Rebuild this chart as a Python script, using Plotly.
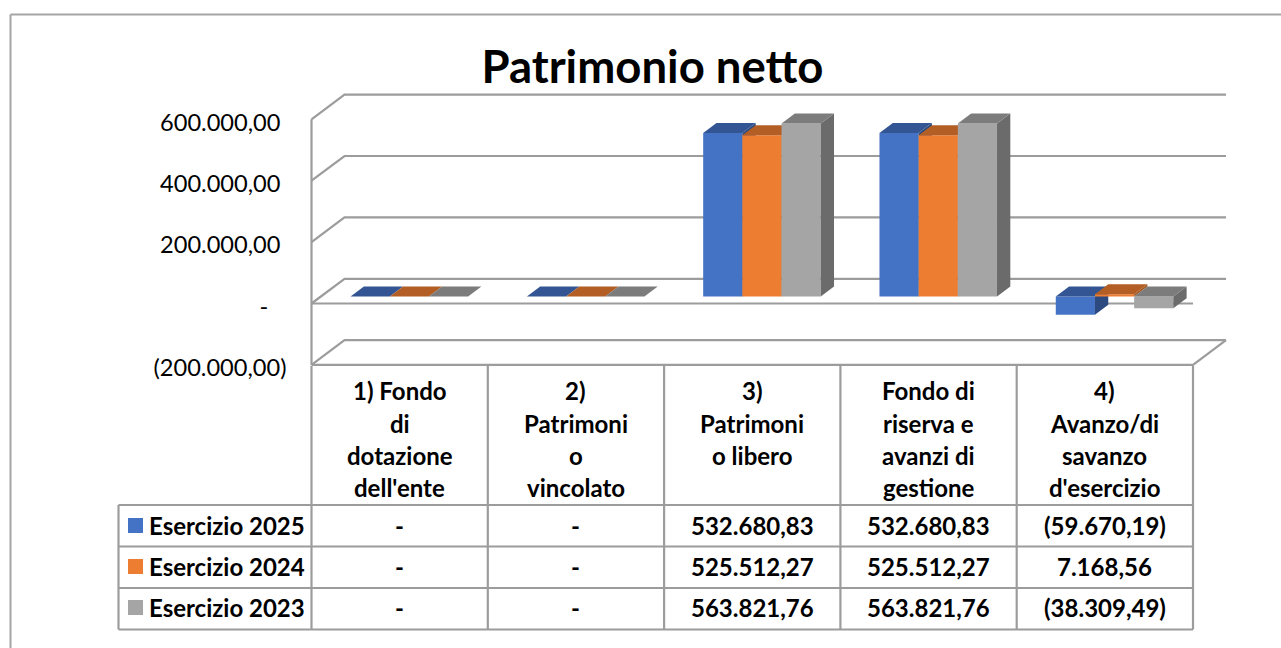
import plotly.graph_objects as go

# ---- data ----
series_names = ["Esercizio 2025", "Esercizio 2024", "Esercizio 2023"]
values_2025 = [0, 0, 532680.83, 532680.83, -59670.19]
values_2024 = [0, 0, 525512.27, 525512.27, 7168.56]
values_2023 = [0, 0, 563821.76, 563821.76, -38309.49]
labels_2025 = ["-", "-", "532.680,83", "532.680,83", "(59.670,19)"]
labels_2024 = ["-", "-", "525.512,27", "525.512,27", "7.168,56"]
labels_2023 = ["-", "-", "563.821,76", "563.821,76", "(38.309,49)"]
category_lines = [
    ["1) Fondo", "di", "dotazione", "dell'ente"],
    ["2)", "Patrimoni", "o", "vincolato"],
    ["3)", "Patrimoni", "o libero"],
    ["Fondo di", "riserva e", "avanzi di", "gestione"],
    ["4)", "Avanzo/di", "savanzo", "d'esercizio"],
]
tick_values = [-200000, 0, 200000, 400000, 600000]
tick_labels = ["(200.000,00)", "-\u00a0\u00a0\u00a0", "200.000,00\u00a0", "400.000,00\u00a0", "600.000,00\u00a0"]
title_text = "Patrimonio netto"
front_colors = ["#4472C4", "#ED7D31", "#A5A5A5"]
top_colors = ["#335593", "#B25E24", "#7C7C7C"]
side_colors = ["#2C4A80", "#A35620", "#6B6B6B"]

# ---- geometry: one category = 176.3 px, 200000 = 61.4 px ----
W, H = 1281, 648
PX_L, PX_R, PX_ZERO = 311.5, 1193.0, 303.5
CAT_PX = (PX_R - PX_L) / 5
VAL_PX = 61.4 / 200000
x_range = [-PX_L / CAT_PX, (W - PX_L) / CAT_PX]
y_range = [(PX_ZERO - H) / VAL_PX, PX_ZERO / VAL_PX]
dxu = lambda px: px / CAT_PX
dyu = lambda px: px / VAL_PX
GRID = "#9C9C9C"
FONT = "Lato"
BW = 1 / 4.5  # three bars, gap 50 %

fig = go.Figure()

# walls: gridlines on the back wall, diagonals to the front plane
gx, gy = [], []
for t in tick_values:
    gx += [0, dxu(33), 5 + dxu(33), None]
    gy += [t, t + dyu(24.7), t + dyu(24.7), None]
# front vertical, floor front edge, right floor edge, front zero line
gx += [0, 0, None, 0, 5, 5 + dxu(33), None, 0, 5, None]
gy += [tick_values[-1], tick_values[0], None, tick_values[0], tick_values[0], tick_values[0] + dyu(24.7), None, 0, 0, None]
fig.add_trace(go.Scatter(x=gx, y=gy, mode="lines", line=dict(color=GRID, width=2.2), hoverinfo="skip", showlegend=False))

# bars: each series in its own overlaid axes so later ones paint over earlier ones
FX, FY = dxu(9.7), dyu(7)
DX, DY = dxu(13.3), dyu(10)
all_values = [values_2025, values_2024, values_2023]
layout_axes = {}
for s, vals in enumerate(all_values):
    n = s + 2
    xa, ya = f"x{n}", f"y{n}"
    layout_axes[f"xaxis{n}"] = dict(range=x_range, overlaying="x", visible=False, domain=[0, 1], anchor=ya, fixedrange=True)
    layout_axes[f"yaxis{n}"] = dict(range=y_range, overlaying="y", visible=False, domain=[0, 1], anchor=xa, fixedrange=True)
    cats = [c + 0.5 + FX for c in range(5)]
    fig.add_trace(go.Bar(x=cats, y=vals, base=[FY] * 5, width=BW, offset=(s - 1.5) * BW,
                         marker=dict(color=front_colors[s], line=dict(width=0)),
                         name=series_names[s], showlegend=False, xaxis=xa, yaxis=ya))
    for c, v in enumerate(vals):
        xl = cats[c] + (s - 1.5) * BW
        xr = xl + BW
        hi, lo = max(v, 0) + FY, min(v, 0) + FY
        if v != 0:
            fig.add_trace(go.Scatter(x=[xr, xr + DX, xr + DX, xr, xr], y=[hi, hi + DY, lo + DY, lo, hi],
                                     mode="lines", fill="toself", fillcolor=side_colors[s], line=dict(width=0),
                                     hoverinfo="skip", showlegend=False, xaxis=xa, yaxis=ya))
        fig.add_trace(go.Scatter(x=[xl, xr, xr + DX, xl + DX, xl], y=[hi, hi, hi + DY, hi + DY, hi],
                                 mode="lines", fill="toself", fillcolor=top_colors[s], line=dict(width=0),
                                 hoverinfo="skip", showlegend=False, xaxis=xa, yaxis=ya))

# ---- table and frame ----
px = lambda v: v / W
py = lambda v: 1 - v / H
shapes = []
def seg(x0, y0, x1, y1, color=GRID, width=2.2):
    shapes.append(dict(type="line", xref="paper", yref="paper", x0=px(x0), y0=py(y0), x1=px(x1), y1=py(y1),
                       line=dict(color=color, width=width), layer="below"))
seg(10.5, 14.5, 1281, 14.5, "#A5A5A5", 2)
seg(10.5, 14.5, 10.5, 648, "#A5A5A5", 2)
edges = [PX_L + i * CAT_PX for i in range(6)]
for e in edges:
    seg(e, 366, e, 629.5)
seg(118.5, 505, 118.5, 629.5)
ROWS = [505, 546.5, 588, 629.5]
for r in ROWS:
    seg(118.5, r, PX_R, r)

annots = []
def text(x, y, s, anchor="center", size=24):
    annots.append(dict(x=px(x), y=py(y), xref="paper", yref="paper", text=s, showarrow=False, xanchor=anchor,
                       yanchor="middle", align="center", font=dict(family=FONT, size=size, color="#000000")))
LINE_Y = [390.5, 423.5, 455.5, 487.5]
for c, lines in enumerate(category_lines):
    for ln, s in enumerate(lines):
        text(PX_L + (c + 0.5) * CAT_PX, LINE_Y[ln], "<b>%s</b>" % s)
ROW_Y = [525, 566, 607]
for r, labels in enumerate([labels_2025, labels_2024, labels_2023]):
    text(146.5, ROW_Y[r], "<b>%s</b>" % series_names[r], anchor="left")
    shapes.append(dict(type="rect", xref="paper", yref="paper", x0=px(128), x1=px(143), y0=py(ROW_Y[r] - 7), y1=py(ROW_Y[r] + 8),
                       fillcolor=front_colors[r], line=dict(width=0), layer="below"))
    for c, s in enumerate(labels):
        text(PX_L + (c + 0.5) * CAT_PX, ROW_Y[r], "<b>%s</b>" % s)

# tick labels sit about 3 px below their gridline level in the reference
label_positions = [t - dyu(3) for t in tick_values]

fig.update_layout(
    width=W, height=H, margin=dict(l=0, r=0, t=0, b=0), paper_bgcolor="white", plot_bgcolor="rgba(0,0,0,0)",
    autosize=False, barmode="overlay", showlegend=False,
    title=dict(text="<b>%s</b>" % title_text, x=652.5 / W, y=1 - 67 / H, xanchor="center", yanchor="middle",
               font=dict(family=FONT, size=45.5, color="#000000")),
    xaxis=dict(range=x_range, domain=[0, 1], visible=False, fixedrange=True),
    yaxis=dict(range=y_range, domain=[0, 1], anchor="free", position=PX_L / W, side="left", tickmode="array",
               tickvals=label_positions, ticktext=tick_labels, showgrid=False, zeroline=False, showline=False, ticks="",
               ticklabelstandoff=25, tickfont=dict(family=FONT, size=23.6, color="#000000"), fixedrange=True),
    shapes=shapes, annotations=annots, **layout_axes,
)
fig.write_html("out.html", config=dict(displayModeBar=False),
               post_script="document.body.style.margin='0';document.body.style.overflow='hidden';")
